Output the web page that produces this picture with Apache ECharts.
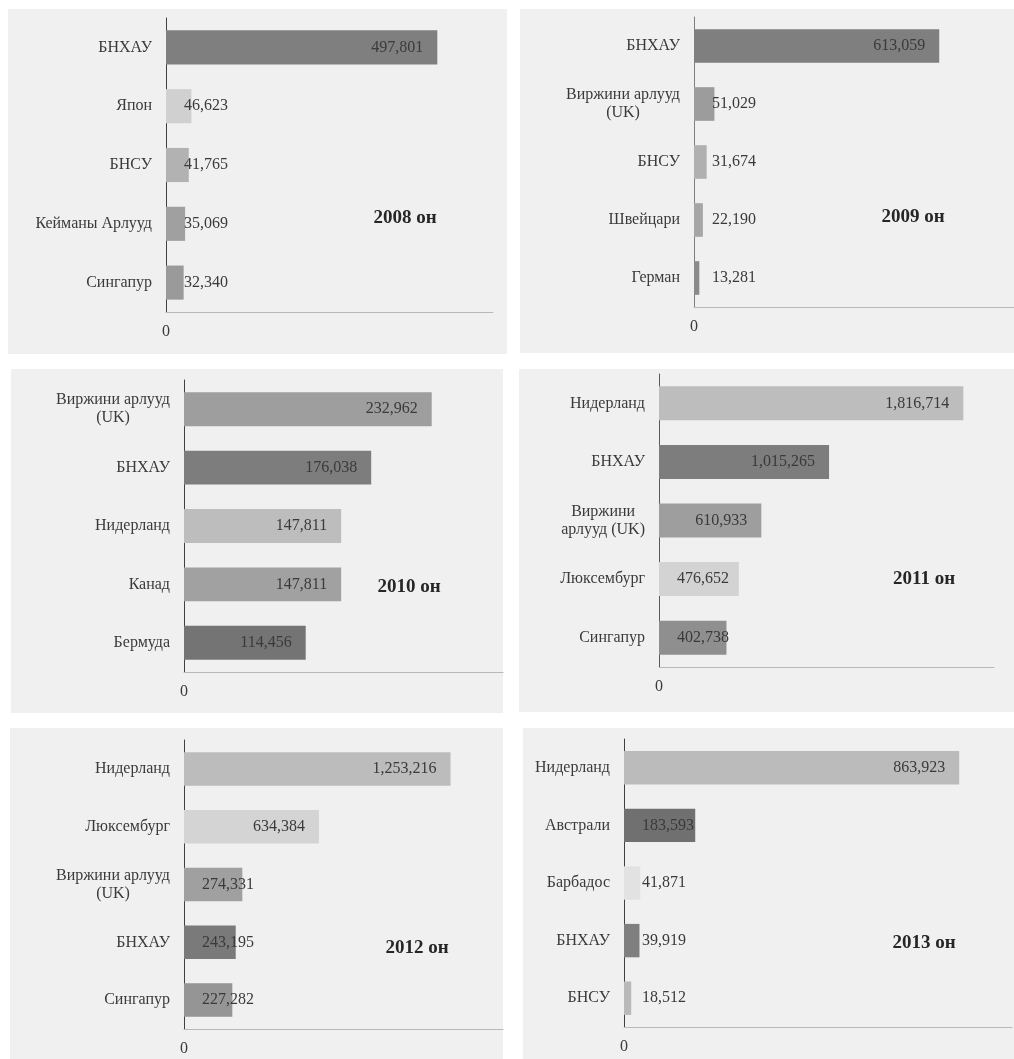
<!DOCTYPE html>
<html>
<head>
<meta charset="utf-8">
<script src="https://cdn.jsdelivr.net/npm/echarts@6/dist/echarts.min.js"></script>
<style>
  html, body { margin: 0; padding: 0; background: #ffffff; }
  #chart { width: 1014px; height: 1059px; }
</style>
</head>
<body>
<div id="chart"></div>
<script>
// Top five destination countries per year
const years = ['2008 он', '2009 он', '2010 он', '2011 он', '2012 он', '2013 он'];

const countries2008 = ['БНХАУ', 'Япон', 'БНСУ', 'Кейманы Арлууд', 'Сингапур'];
const values2008 = [497801, 46623, 41765, 35069, 32340];

const countries2009 = ['БНХАУ', 'Виржини арлууд\n(UK)', 'БНСУ', 'Швейцари', 'Герман'];
const values2009 = [613059, 51029, 31674, 22190, 13281];

const countries2010 = ['Виржини арлууд\n(UK)', 'БНХАУ', 'Нидерланд', 'Канад', 'Бермуда'];
const values2010 = [232962, 176038, 147811, 147811, 114456];

const countries2011 = ['Нидерланд', 'БНХАУ', 'Виржини\nарлууд (UK)', 'Люксембург', 'Сингапур'];
const values2011 = [1816714, 1015265, 610933, 476652, 402738];

const countries2012 = ['Нидерланд', 'Люксембург', 'Виржини арлууд\n(UK)', 'БНХАУ', 'Сингапур'];
const values2012 = [1253216, 634384, 274331, 243195, 227282];

const countries2013 = ['Нидерланд', 'Австрали', 'Барбадос', 'БНХАУ', 'БНСУ'];
const values2013 = [863923, 183593, 41871, 39919, 18512];

// Axis upper bounds
const axisMax = [600000, 800000, 300000, 2000000, 1500000, 1000000];

const allCountries = [countries2008, countries2009, countries2010, countries2011, countries2012, countries2013];
const allValues = [values2008, values2009, values2010, values2011, values2012, values2013];

// Styling: bar fills per panel
const barColors = [
  ['#7f7f7f', '#d0d0d0', '#b2b2b2', '#a0a0a0', '#9a9a9a'],
  ['#7f7f7f', '#9c9c9c', '#b0b0b0', '#a6a6a6', '#8a8a8a'],
  ['#9e9e9e', '#7d7d7d', '#bdbdbd', '#a1a1a1', '#747474'],
  ['#bdbdbd', '#7d7d7d', '#9e9e9e', '#d3d3d3', '#8f8f8f'],
  ['#bcbcbc', '#d4d4d4', '#a0a0a0', '#7a7a7a', '#959595'],
  ['#bbbbbb', '#707070', '#e2e2e2', '#7f7f7f', '#b9b9b9']
];
const valueAxisLineColors = ['#404040', '#7f7f7f', '#404040', '#595959', '#404040', '#404040'];

// Layout: panel backgrounds, plot areas and year captions
const panels = [
  { bg: [8, 9, 499, 345],    grid: [166, 18, 327, 294],  caption: [405, 218] },
  { bg: [520, 9, 494, 344],  grid: [694, 17, 324, 290],  caption: [913, 217] },
  { bg: [11, 369, 492, 344], grid: [184, 380, 319, 292], caption: [409, 587] },
  { bg: [519, 369, 495, 343],grid: [659, 374, 335, 293], caption: [924, 579] },
  { bg: [10, 728, 493, 331], grid: [184, 740, 319, 289], caption: [417, 948] },
  { bg: [523, 728, 491, 331],grid: [624, 739, 388, 288], caption: [924, 943] }
];

const FONT = '"Liberation Serif", "DejaVu Serif", serif';
const TEXT_COLOR = '#3a3a3a';
const FONT_SIZE = 16;

const grids = [], xAxes = [], yAxes = [], series = [], graphics = [];

panels.forEach((p, i) => {
  graphics.push({
    type: 'rect', z: -100, silent: true,
    shape: { x: p.bg[0], y: p.bg[1], width: p.bg[2], height: p.bg[3] },
    style: { fill: '#f0f0f0' }
  });
  graphics.push({
    type: 'text', z: 100, silent: true,
    x: p.caption[0], y: p.caption[1],
    style: {
      text: years[i], fontFamily: FONT, fontSize: 19, fontWeight: 'bold',
      fill: '#262626', align: 'center', verticalAlign: 'middle'
    }
  });

  grids.push({ left: p.grid[0], top: p.grid[1], width: p.grid[2], height: p.grid[3], containLabel: false });

  xAxes.push({
    type: 'value', gridIndex: i, min: 0, max: axisMax[i], interval: axisMax[i],
    axisLine: { show: true, lineStyle: { color: '#b8b8b8', width: 1 } },
    axisTick: { show: false },
    splitLine: { show: false },
    axisLabel: {
      showMaxLabel: false, margin: 12,
      fontFamily: FONT, fontSize: FONT_SIZE, color: TEXT_COLOR
    }
  });

  yAxes.push({
    type: 'category', gridIndex: i, inverse: true, data: allCountries[i],
    axisLine: { show: true, lineStyle: { color: valueAxisLineColors[i], width: 1 } },
    axisTick: { show: false },
    axisLabel: {
      margin: 14,
      formatter: (v) => v.split('\n').map(s => '{c|' + s + '}').join('\n'),
      rich: {
        c: { align: 'center', fontFamily: FONT, fontSize: FONT_SIZE, color: TEXT_COLOR, lineHeight: 18 }
      }
    }
  });

  series.push({
    type: 'bar', xAxisIndex: i, yAxisIndex: i,
    barCategoryGap: '42%',
    data: allValues[i].map((v, k) => ({ value: v, itemStyle: { color: barColors[i][k] } })),
    label: {
      show: true, position: 'insideRight',
      fontFamily: FONT, fontSize: FONT_SIZE, color: TEXT_COLOR,
      formatter: (d) => d.value.toLocaleString('en-US')
    },
    // value label sits inside the bar end; short bars push it to a fixed spot past the axis
    labelLayout: (lp) => {
      const w = lp.labelRect.width;
      const end = lp.rect.x + lp.rect.width;
      let left = end - 14 - w;
      if (left < lp.rect.x + 18) left = lp.rect.x + 18;
      return { x: left, y: lp.rect.y + lp.rect.height / 2, align: 'left', verticalAlign: 'middle' };
    },
    silent: true
  });
});

const chart = echarts.init(document.getElementById('chart'), null, { renderer: 'canvas' });
chart.setOption({
  animation: false,
  backgroundColor: '#ffffff',
  textStyle: { fontFamily: FONT },
  grid: grids,
  xAxis: xAxes,
  yAxis: yAxes,
  series: series,
  graphic: { elements: graphics }
});
</script>
</body>
</html>
